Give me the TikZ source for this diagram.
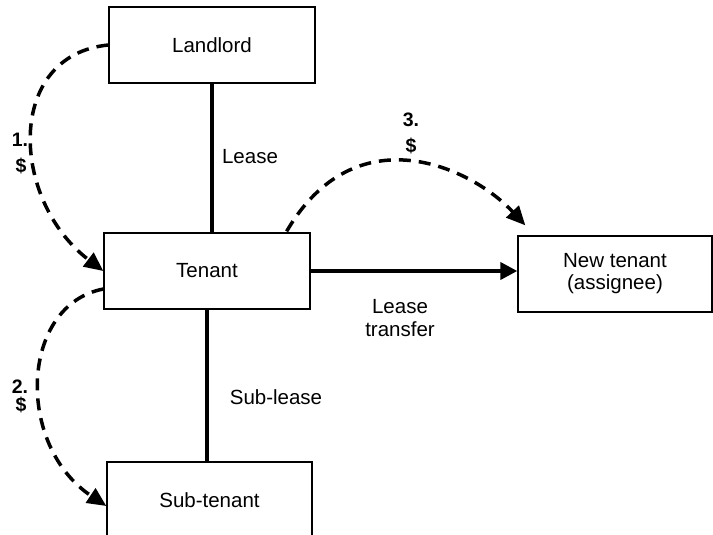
\documentclass[tikz,border=0pt]{standalone}
\usepackage{fontspec}
\setmainfont{Liberation Sans}
\usetikzlibrary{arrows.meta}
\begin{document}
\begin{tikzpicture}[x=1pt,y=-1pt,
  box/.style={draw, line width=1.3pt, minimum width=206pt, minimum height=76pt, inner sep=0pt, font=\fontsize{20.5}{22}\selectfont, align=center},
  lbl/.style={font=\fontsize{20.5}{23}\selectfont, align=center, inner sep=0pt},
  num/.style={font=\fontsize{19.5}{22}\selectfont\bfseries, inner sep=0pt},
  solidline/.style={line width=3.8pt},
  money/.style={line width=3.5pt, dash pattern=on 12pt off 8pt, -{Triangle[length=19pt,width=17pt]}},
]
\useasboundingbox (0,0) rectangle (713,535);
\clip (0,0) rectangle (713,535);

\node[box] (Landlord) at (212,45) {Landlord};
\node[box] (Tenant) at (207,271) {Tenant};
\node[box, minimum width=205pt] (Subtenant) at (209.5,500) {Sub-tenant};
\node[box, minimum width=194pt] (NewTenant) at (615,274) {New tenant\\(assignee)};

\draw[solidline] (Landlord.south) -- (Landlord.south |- Tenant.north);
\draw[solidline] (Tenant.south) -- (Tenant.south |- Subtenant.north);
\draw[solidline, -{Triangle[length=17pt,width=17pt]}] (Tenant.east) -- (Tenant.east -| NewTenant.west);

\node[lbl] (leaselbl) at (250,157) {Lease};
\node[lbl] (subleaselbl) at (276,397) {Sub-lease};
\node[lbl] (transferlbl) at (400,318) {Lease\\transfer};

\draw[money] (Landlord.west) .. controls (5,55) and (10,200) .. (Tenant.west);
\draw[money] ([yshift=-18pt]Tenant.west) .. controls (20,305) and (15,445) .. ([yshift=-6pt]Subtenant.west);
\draw[money] ([xshift=-24pt,yshift=1pt]Tenant.north east) .. controls (355,114) and (470,166) .. ([xshift=8pt,yshift=10pt]NewTenant.north west);

\node[num] (n1) at (20,140) {1.};
\node[num] (d1) at (21,166) {\$};
\node[num] (n2) at (20,387) {2.};
\node[num] (d2) at (21,405) {\$};
\node[num] (n3) at (411,120) {3.};
\node[num] (d3) at (411,146) {\$};
\end{tikzpicture}
\end{document}
